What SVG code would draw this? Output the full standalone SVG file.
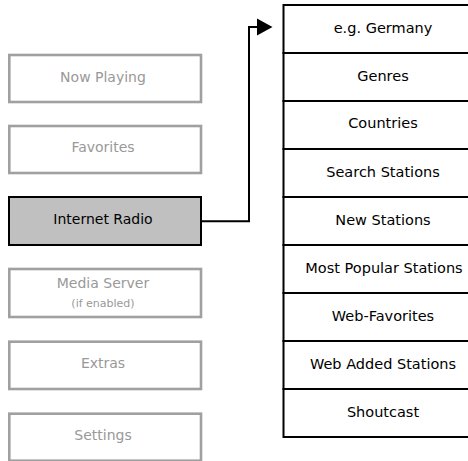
<svg xmlns="http://www.w3.org/2000/svg" width="468" height="461" viewBox="0 0 468 461">
<style>
text{font-family:"DejaVu Sans","Liberation Sans",sans-serif;font-size:14px;text-anchor:middle}
.off rect{fill:#fff;stroke:#a0a0a0;stroke-width:2.6}
.off text{fill:#999}
.on rect{fill:#c0c0c0;stroke:#000;stroke-width:2}
.on text{fill:#000}
.item rect{fill:#fff;stroke:#000;stroke-width:2}
.item text{fill:#000;font-size:14.5px}
.conn{fill:none;stroke:#000;stroke-width:2}
</style>
<g id="now-playing" class="off"><rect x="9.3" y="55" width="191.7" height="47"/><text x="103" y="82">Now Playing</text></g>
<g id="favorites" class="off"><rect x="9.3" y="126" width="191.7" height="47"/><text x="103" y="152">Favorites</text></g>
<g id="internet-radio" class="on"><rect x="9" y="197" width="192" height="48"/><text x="103" y="223.5">Internet Radio</text></g>
<g id="media-server" class="off"><rect x="9.3" y="269" width="191.7" height="48"/><text x="103" y="288">Media Server</text><text x="103" y="307" style="font-size:11px">(if enabled)</text></g>
<g id="extras" class="off"><rect x="9.3" y="341.7" width="191.7" height="47.3"/><text x="103" y="368">Extras</text></g>
<g id="settings" class="off"><rect x="9.3" y="413.7" width="191.7" height="47"/><text x="103" y="440">Settings</text></g>
<g id="list">
<g id="germany" class="item"><rect x="283.5" y="5" width="200" height="48"/><text x="383" y="32.5">e.g. Germany</text></g>
<g id="genres" class="item"><rect x="283.5" y="53" width="200" height="48"/><text x="383" y="80.5">Genres</text></g>
<g id="countries" class="item"><rect x="283.5" y="101" width="200" height="48"/><text x="383" y="128">Countries</text></g>
<g id="search-stations" class="item"><rect x="283.5" y="149" width="200" height="48"/><text x="383" y="176.5">Search Stations</text></g>
<g id="new-stations" class="item"><rect x="283.5" y="197" width="200" height="48"/><text x="383" y="224.5">New Stations</text></g>
<g id="most-popular" class="item"><rect x="283.5" y="245" width="200" height="48"/><text x="384" y="272.5">Most Popular Stations</text></g>
<g id="web-favorites" class="item"><rect x="283.5" y="293" width="200" height="48"/><text x="383" y="320.5">Web-Favorites</text></g>
<g id="web-added" class="item"><rect x="283.5" y="341" width="200" height="48"/><text x="383" y="368.5">Web Added Stations</text></g>
<g id="shoutcast" class="item"><rect x="283.5" y="389" width="200" height="48"/><text x="383" y="416.5">Shoutcast</text></g>
</g>
<g id="connectors">
<path class="conn" d="M201,221.3 H249 V27 H259"/>
<polygon points="257,18.5 272.5,27 257,35.5" fill="#000"/>
</g>
</svg>
